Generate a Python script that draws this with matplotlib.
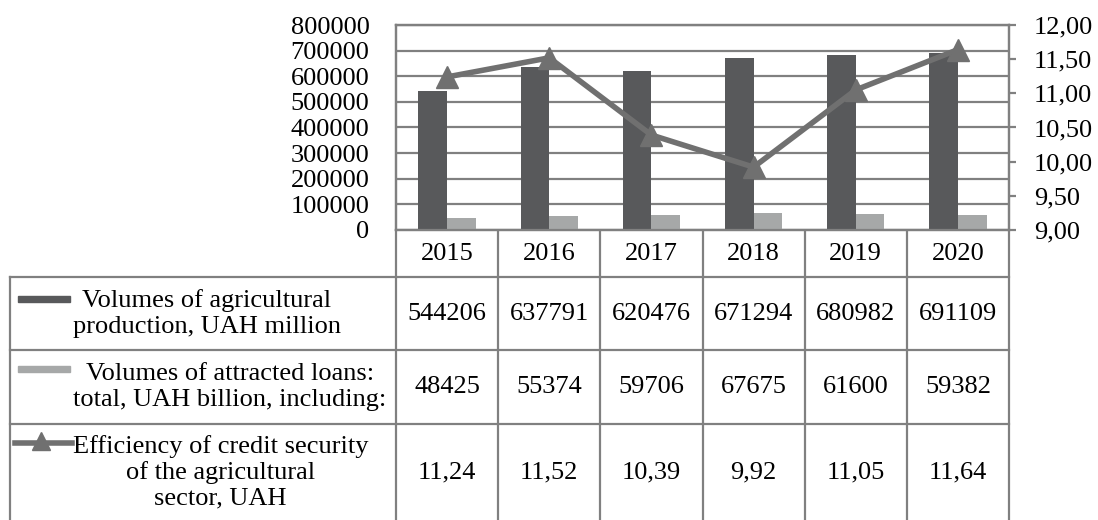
import matplotlib.pyplot as plt
import matplotlib.transforms as mtransforms
from matplotlib.ticker import FuncFormatter

plt.rcParams['font.family'] = ['Liberation Serif', 'DejaVu Serif']

# data
years = ["2015", "2016", "2017", "2018", "2019", "2020"]
production = [544206, 637791, 620476, 671294, 680982, 691109]
loans = [48425, 55374, 59706, 67675, 61600, 59382]
efficiency = [11.24, 11.52, 10.39, 9.92, 11.05, 11.64]

row_labels = [
    "Volumes of agricultural\nproduction, UAH million",
    "Volumes of attracted loans:\ntotal, UAH billion, including:",
    "Efficiency of credit security\nof the agricultural\nsector, UAH",
]

dark = "#58595b"
light = "#a6a8a8"
line_col = "#707070"
grid_col = "#808080"
fs = 19

W, H = 1098, 520
fig = plt.figure(figsize=(W / 100, H / 100), dpi=100)

# plot area in pixels
left, right, top, bottom = 396, 1009, 25, 230
ax = fig.add_axes([left / W, 1 - bottom / H, (right - left) / W, (bottom - top) / H])

x = list(range(len(years)))
bw = 0.28
ax.bar([i - bw / 2 for i in x], production, width=bw, color=dark, zorder=3)
ax.bar([i + bw / 2 for i in x], loans, width=bw, color=light, zorder=3)
ax.set_xlim(-0.5, len(years) - 0.5)
ax.set_ylim(0, 800000)
ax.set_yticks(range(0, 800001, 100000))
ax.yaxis.grid(True, color=grid_col, linewidth=1.6, zorder=0)
ax.set_xticks([])
ax.tick_params(axis="y", length=0, pad=19, labelsize=fs)
for s in ax.spines.values():
    s.set_color(grid_col)
    s.set_linewidth(1.6)

ax2 = ax.twinx()
ax2.plot(x, efficiency, color=line_col, linewidth=4, marker="^",
         markersize=16, markerfacecolor=line_col, markeredgecolor=line_col, zorder=4)
ax2.set_ylim(9, 12)
ax2.set_yticks([9 + 0.5 * k for k in range(7)])
ax2.yaxis.set_major_formatter(FuncFormatter(lambda v, p: f"{v:.2f}".replace(".", ",")))
ax2.tick_params(axis="y", length=5, width=1.6, color=grid_col, pad=13, labelsize=fs)
for s in ax2.spines.values():
    s.set_color(grid_col)
    s.set_linewidth(1.6)

# data table under the chart
tab = fig.add_axes([0, 0, 1, 1], zorder=-1)
tab.set_xlim(0, W)
tab.set_ylim(H, 0)
tab.axis("off")
tr = mtransforms.blended_transform_factory(ax.transData, tab.transData)

row_edges = [bottom, 277, 350, 424, H]
lw = 1.6
# horizontal lines
for y in row_edges[1:-1]:
    tab.plot([10, right], [y, y], color=grid_col, lw=lw)
# left edge of label column
tab.plot([10, 10], [277, H], color=grid_col, lw=lw)
# column separators
for i in range(len(years) + 1):
    tab.plot([i - 0.5, i - 0.5], [bottom, H], color=grid_col, lw=lw, transform=tr)

# header years
yc = (row_edges[0] + row_edges[1]) / 2
for i, yr in enumerate(years):
    tab.text(i, yc + 1, yr, ha="center", va="center", fontsize=fs, transform=tr)

rows = [
    [str(v) for v in production],
    [str(v) for v in loans],
    [f"{v:.2f}".replace(".", ",") for v in efficiency],
]
for r, vals in enumerate(rows):
    yc = (row_edges[r + 1] + row_edges[r + 2]) / 2
    for i, v in enumerate(vals):
        tab.text(i, yc, v, ha="center", va="center", fontsize=fs, transform=tr)
    tab.text(73, yc, row_labels[r], ha="left", va="center", fontsize=fs,
             multialignment="center", linespacing=1.2)

# legend keys in the label cells
tab.add_patch(plt.Rectangle((18, 296), 52, 6, color=dark))
tab.add_patch(plt.Rectangle((18, 366), 52, 6, color=light))
tab.plot([15, 72], [443, 443], color=line_col, lw=4)
tab.plot([41], [441], marker="^", markersize=13, color=line_col)

fig.savefig("out.png", dpi=100)
